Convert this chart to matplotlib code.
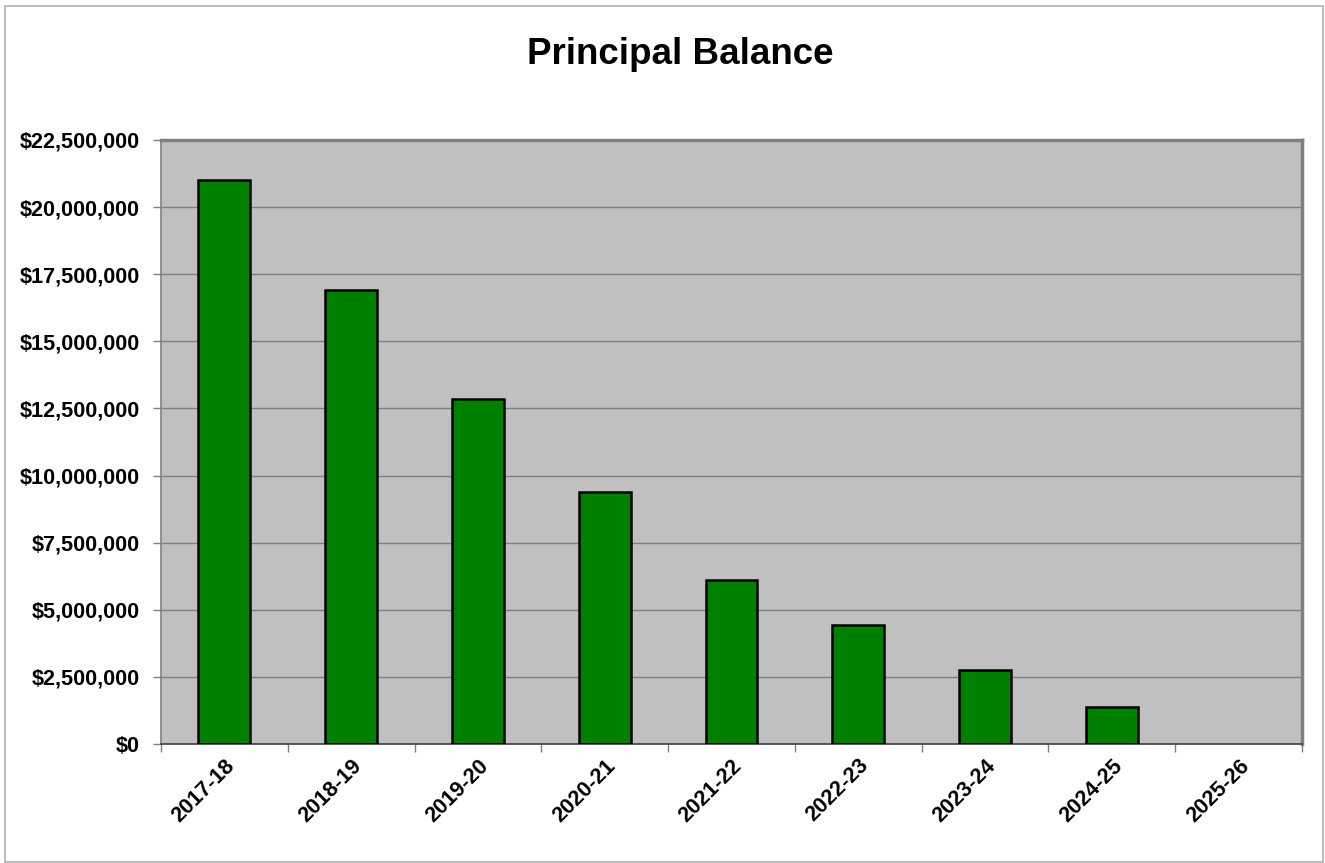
#!/usr/bin/env python3
"""Principal Balance bar chart."""

import numpy as np
import matplotlib.pyplot as plt
from matplotlib.patches import Rectangle
from matplotlib.ticker import FuncFormatter, MultipleLocator

years = ['2017-18', '2018-19', '2019-20', '2020-21', '2021-22',
         '2022-23', '2023-24', '2024-25', '2025-26']
balance = [21000000, 16920000, 12840000, 9380000, 6100000,
           4430000, 2750000, 1390000, 0]

plt.rcParams['font.family'] = ['Liberation Sans', 'DejaVu Sans']

fig = plt.figure(figsize=(13.25, 8.63), dpi=100)
ax = fig.add_axes([161 / 1325, 119 / 863, 1141 / 1325, 604 / 863])

# outer chart border
fig.patches.append(Rectangle((5 / 1325, 1 / 863), 1318 / 1325, 856 / 863,
                             transform=fig.transFigure, fill=False,
                             edgecolor='#b0b0b0', linewidth=1.2))

x = np.arange(len(years))
ax.set_facecolor('#c0c0c0')
edge_w = [1.8 if v > 0 else 0 for v in balance]
ax.bar(x, balance, width=0.41, color='#008000', edgecolor='black',
       linewidth=edge_w, zorder=3)

ax.set_xlim(-0.5, len(years) - 0.5)
ax.set_ylim(0, 22500000)
ax.yaxis.set_major_locator(MultipleLocator(2500000))
ax.yaxis.set_major_formatter(FuncFormatter(lambda v, p: f'${v:,.0f}'))
ax.grid(axis='y', color='#808080', linewidth=1, zorder=1)

ax.set_xticks(x)
ax.set_xticklabels(years, rotation=45, ha='right', rotation_mode='anchor')
ax.set_xticks(np.arange(len(years) + 1) - 0.5, minor=True)
ax.tick_params(axis='x', which='major', length=0, pad=8)
ax.tick_params(axis='x', which='minor', length=6, color='#808080', width=1)
ax.tick_params(axis='y', length=6, color='#808080', width=1, pad=9)
for lbl in ax.get_xticklabels() + ax.get_yticklabels():
    lbl.set_fontsize(15.6)
    lbl.set_fontweight('bold')

for side in ['left', 'bottom']:
    ax.spines[side].set_color('#808080')
    ax.spines[side].set_linewidth(1.2)
for side in ['top', 'right']:
    ax.spines[side].set_color('#808080')
    ax.spines[side].set_linewidth(2.5)
ax.spines['bottom'].set_color('#404040')

fig.text(680 / 1325, 1 - 55 / 863, 'Principal Balance', ha='center',
         va='center', fontsize=26.5, fontweight='bold')

plt.savefig('out.png', dpi=100)
plt.close()
